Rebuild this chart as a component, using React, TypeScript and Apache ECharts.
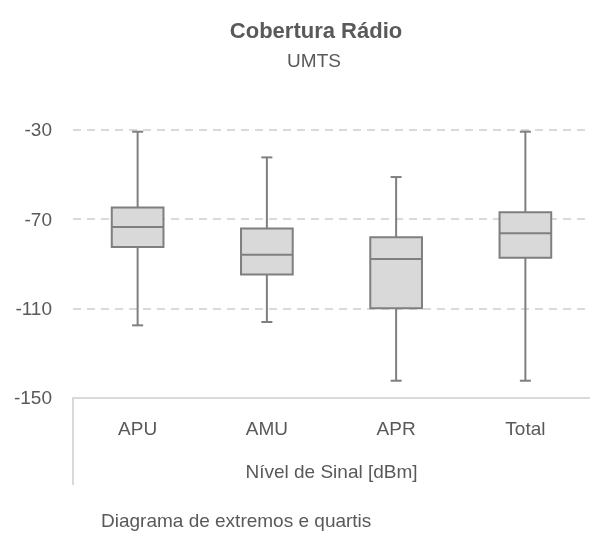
import React, { useEffect, useRef } from "react";
import * as echarts from "echarts";

const categories = ["APU", "AMU", "APR", "Total"];
const whiskerMax = [-30.9, -42.4, -51.2, -30.9];
const quartil3 = [-64.8, -74.2, -78.2, -67.0];
const mediana = [-73.6, -86.0, -87.9, -76.4];
const quartil1 = [-82.5, -94.8, -109.9, -87.3];
const whiskerMin = [-117.6, -116.1, -142.4, -142.4];
const yTicks = [-150, -110, -70, -30];

const FONT = "'Liberation Sans Narrow', 'Arial Narrow', 'Liberation Sans', Arial, sans-serif";
const TXT = "#595959";
const STROKE = "#7f7f7f";

export default function App() {
  const ref = useRef<HTMLDivElement>(null);
  useEffect(() => {
    if (!ref.current) return;
    const chart = echarts.init(ref.current, null, { renderer: "svg" });
    const data = categories.map((_, i) => [i, whiskerMin[i], quartil1[i], mediana[i], quartil3[i], whiskerMax[i]]);
    chart.setOption({
      animation: false,
      textStyle: { fontFamily: FONT },
      grid: { left: 73, top: 129.7, width: 528, height: 268, containLabel: false },
      xAxis: {
        type: "category",
        data: categories,
        axisLine: { show: true, lineStyle: { color: "#d9d9d9", width: 2 } },
        axisTick: { show: false },
        axisLabel: { color: TXT, fontSize: 19, margin: 21, fontFamily: FONT },
        name: "Nível de Sinal [dBm]",
        nameLocation: "middle",
        nameGap: 64,
        nameTextStyle: { color: TXT, fontSize: 19, fontFamily: FONT },
        splitLine: { show: false },
      },
      yAxis: {
        type: "value",
        min: yTicks[0],
        max: yTicks[yTicks.length - 1],
        interval: 40,
        axisLine: { show: false },
        axisTick: { show: false },
        axisLabel: { color: TXT, fontSize: 19, margin: 21, fontFamily: FONT },
        splitLine: { show: true, lineStyle: { color: "#d9d9d9", width: 2, type: [8, 6] } },
      },
      graphic: [
        { type: "text", x: 316, y: 30, style: { text: "Cobertura Rádio", fill: TXT, font: `bold 22px ${FONT}`, textAlign: "center", textVerticalAlign: "middle" } },
        { type: "text", x: 314, y: 60, style: { text: "UMTS", fill: TXT, font: `19px ${FONT}`, textAlign: "center", textVerticalAlign: "middle" } },
        { type: "text", x: 101, y: 520, style: { text: "Diagrama de extremos e quartis", fill: TXT, font: `19px ${FONT}`, textAlign: "left", textVerticalAlign: "middle" } },
        { type: "line", shape: { x1: 73, y1: 397.7, x2: 73, y2: 485 }, style: { stroke: "#d9d9d9", lineWidth: 2 } },
      ],
      series: [
        {
          type: "custom",
          data,
          encode: { x: 0, y: [1, 2, 3, 4, 5] },
          renderItem: (params: any, api: any) => {
            const idx = api.value(0);
            const bw = api.size([1, 0])[0] * 0.4;
            const pMin = api.coord([idx, api.value(1)]);
            const pQ1 = api.coord([idx, api.value(2)]);
            const pMed = api.coord([idx, api.value(3)]);
            const pQ3 = api.coord([idx, api.value(4)]);
            const pMax = api.coord([idx, api.value(5)]);
            const x = pMed[0];
            const cap = 5.5;
            const ls = { stroke: STROKE, lineWidth: 2 };
            return {
              type: "group",
              children: [
                { type: "line", shape: { x1: x, y1: pMax[1], x2: x, y2: pQ3[1] }, style: ls },
                { type: "line", shape: { x1: x, y1: pQ1[1], x2: x, y2: pMin[1] }, style: ls },
                { type: "line", shape: { x1: x - cap, y1: pMax[1], x2: x + cap, y2: pMax[1] }, style: ls },
                { type: "line", shape: { x1: x - cap, y1: pMin[1], x2: x + cap, y2: pMin[1] }, style: ls },
                { type: "rect", shape: { x: x - bw / 2, y: pQ3[1], width: bw, height: pQ1[1] - pQ3[1] }, style: { fill: "#d9d9d9", stroke: STROKE, lineWidth: 2 } },
                { type: "line", shape: { x1: x - bw / 2, y1: pMed[1], x2: x + bw / 2, y2: pMed[1] }, style: ls },
              ],
            };
          },
        },
      ],
    });
    return () => chart.dispose();
  }, []);
  return <div ref={ref} style={{ position: "fixed", left: 0, top: 0, width: 590, height: 533 }} />;
}
